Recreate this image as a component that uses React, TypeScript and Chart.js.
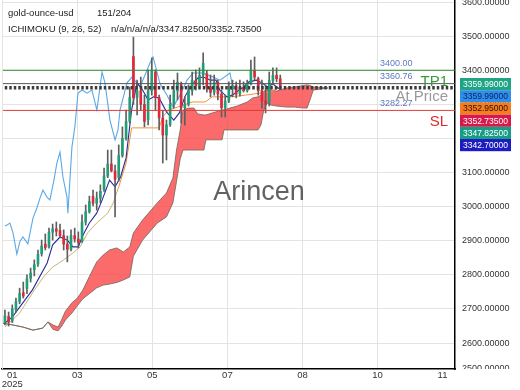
import React, { useEffect, useRef } from 'react';
import { Chart, registerables } from 'chart.js';

Chart.register(...registerables);

const FONT = "'Liberation Sans', Arial, Helvetica, sans-serif";

// ---- texts ----
const symbolName = 'gold-ounce-usd';
const barCounter = '151/204';
const indicatorName = 'ICHIMOKU (9, 26, 52)';
const indicatorValues = 'n/a/n/a/n/a/3347.82500/3352.73500';
const watermark = 'Arincen';

// ---- axes ----
const xTickValues = [4, 39.4, 80.3, 121.2, 162.1, 203, 238.4];
const xTickLabels: (string | string[])[] = [['01', '2025'], '03', '05', '07', '08', '10', '11'];
const yTickValues = [2600, 2700, 2800, 2900, 3000, 3100, 3200, 3300, 3400, 3500, 3600];
const clippedTick = 2500;

// ---- candles (bar index) ----
const candleX = [0,2,4,6,8,10,12,14,16,18,20,22,24,26,28,30,32,34,36,38,40,42,44,46,48,50,52,54,56,58,60,62,64,66,68,70,72,74,76,78,80,82,84,86,88,90,92,94,96,98,100,102,104,106,108,110,112,114,116,118,120,122,124,126,128,130,132,134,136,138,140,142,144,146,148,150];
const candleOpen = [2660,2678,2665,2698,2722,2748,2760,2790,2815,2832,2862,2890,2882,2925,2935,2930,2915,2890,2875,2915,2905,2900,2955,2985,3030,3010,3025,3050,3090,3125,3105,3085,3150,3200,3250,3440,3320,3340,3300,3255,3340,3395,3320,3260,3210,3240,3300,3340,3360,3290,3300,3340,3370,3355,3385,3390,3350,3335,3365,3330,3290,3310,3345,3355,3330,3350,3340,3360,3400,3375,3340,3310,3305,3370,3385,3375];
const candleHigh = [2697,2691,2712,2732,2761,2779,2800,2820,2844,2873,2902,2920,2937,2949,2955,2949,2932,2914,2932,2937,2926,2976,3005,3031,3049,3043,3064,3113,3166,3166,3122,3181,3234,3283,3351,3497,3371,3380,3327,3401,3436,3401,3327,3283,3254,3327,3371,3392,3365,3322,3357,3395,3401,3407,3451,3400,3386,3386,3371,3342,3327,3366,3371,3366,3371,3366,3371,3430,3439,3380,3371,3357,3395,3407,3407,3386];
const candleLow = [2653,2650,2660,2691,2715,2732,2745,2779,2797,2825,2855,2873,2878,2902,2914,2908,2873,2838,2870,2896,2879,2895,2946,2981,3002,2990,3011,3045,3085,3102,2970,3075,3145,3195,3245,3300,3269,3283,3234,3240,3327,3283,3225,3128,3137,3235,3289,3313,3245,3239,3295,3327,3342,3348,3357,3336,3322,3327,3313,3263,3263,3305,3322,3319,3324,3336,3336,3357,3371,3327,3289,3275,3295,3357,3366,3348];
const candleClose = [2680,2662,2700,2722,2745,2738,2788,2805,2830,2860,2885,2880,2925,2935,2928,2915,2890,2875,2915,2905,2895,2955,2985,3015,3010,3025,3045,3090,3125,3105,3080,3150,3200,3250,3320,3320,3340,3300,3250,3340,3400,3320,3260,3210,3240,3300,3340,3365,3290,3300,3340,3370,3355,3385,3420,3350,3335,3365,3330,3290,3310,3345,3355,3330,3350,3340,3360,3400,3380,3340,3310,3300,3370,3385,3375,3352.735];

// ---- ichimoku lines ----
const tenkanX = [0,4,15,23,26,30,34,37,40,42,46,50,53,57,60,63,66,69,72,75,78,81,84,88,92,95,98,101,105,108,112,115,117,121,124,126,130,133,137,140,143,146,150];
const tenkanY = [2659,2676,2756,2835,2888,2911,2902,2882,2882,2911,2952,2981,3020,3078,3058,3087,3143,3283,3363,3342,3313,3322,3319,3278,3254,3275,3322,3351,3377,3380,3371,3371,3342,3322,3327,3336,3351,3366,3371,3363,3351,3360,3343];

const kijunX = [0,8,15,21,26,32,37,41,45,50,56,59,62,66,68,69,84,86,89,94,102,109,113,123,131,139,144,150];
const kijunY = [2647,2688,2747,2794,2823,2844,2864,2882,2923,2952,2981,3011,3058,3128,3196,3231,3231,3263,3283,3292,3307,3307,3322,3322,3327,3333,3336,3350];

const chikouX = [0,1.1,2.7,4.4,6.5,8.2,9.8,12.5,15.3,17.4,19.1,20.7,22.9,24.5,26.7,28.3,30,31.6,33.8,34.3,36.5,38.1,39.8,42,44.7,47.4,50.1,52.9,54.5,57.2,60,61.6,62.7,66.5,69.2,73.6,79,80.7,84.5,88.3,91.6,95.4,99.2,102.5,107.9,113.4,117.2,122.6,124];
const chikouY = [2943,2946,2952,2923,2861,2899,2911,2891,2967,2996,3025,3049,3028,3020,3078,3128,3160,3087,3028,2981,3175,3234,3333,3342,3333,3342,3283,3395,3363,3254,3196,3225,3283,3363,3380,3351,3421,3439,3360,3327,3292,3327,3371,3392,3392,3380,3371,3392,3352.7];

const cloudX = [-2,4.4,9.8,15.3,20.7,23.4,26.2,29,31,33,36.5,39.5,42.5,46,50,53.5,57,61,64.5,68,70,75,83,88,91.5,93.5,95.5,97,100,103,105,108.4,109.5,113,117,118.3,119.3,122.5,126.5,132,135,137.9,139.5,141,142.8,145,148,153.5,158,161,164.6,166.2,168,176];
const spanA = [2659,2653,2647,2638,2644,2662,2653,2647,2670,2694,2718,2732,2756,2795,2838,2858,2873,2879,2867,2882,2923,2961,3011,3040,3084,3166,3225,3283,3289,3289,3272,3269,3269,3275,3281,3283,3284,3289,3295,3307,3319,3322,3327,3338,3342,3342,3339,3348,3351,3354,3357,3355,3351,3348];
const spanB = [2659,2653,2647,2638,2644,2662,2640,2636,2650,2668,2688,2710,2730,2745,2762,2770,2773,2778,2785,2794,2855,2902,2952,2970,3011,3075,3140,3166,3166,3166,3166,3166,3196,3196,3196,3196,3225,3225,3225,3225,3225,3225,3240,3283,3304,3298,3295,3292,3292,3290,3289,3313,3342,3348];

// ---- levels ----
const levelHigh = 3400;
const levelTP = 3360.76;
const levelAtPrice = 3349;
const levelSL = 3282.27;

// ---- right side price tags ----
const tagValues = [3359.99, 3359.99, 3352.95, 3352.735, 3347.825, 3342.7];
const tagColors = ['#1fa585', '#2f8fe6', '#f57d1f', '#d8184a', '#179c86', '#1c1cc0'];
const tagTextColors = ['#ffffff', '#0b1e6e', '#2a1000', '#ffffff', '#ffffff', '#ffffff'];

const UP = '#1f9e78';
const DOWN = '#e0283c';

const zip = (xs: number[], ys: number[]) => xs.map((x, i) => ({ x, y: ys[i] }));
const hline = (v: number) => [{ x: -5, y: v }, { x: 260, y: v }];

const overlayPlugin = {
  id: 'overlay',
  afterDraw(chart: any) {
    const { ctx, chartArea, scales } = chart;
    const ys = scales.y;
    ctx.save();
    // left edge line
    ctx.strokeStyle = '#e3e3e3';
    ctx.lineWidth = 1;
    ctx.beginPath();
    ctx.moveTo(chartArea.left + 0.5, chartArea.top);
    ctx.lineTo(chartArea.left + 0.5, chartArea.bottom);
    ctx.stroke();

    // header
    ctx.textBaseline = 'middle';
    ctx.textAlign = 'left';
    ctx.fillStyle = '#222';
    ctx.font = `9.5px ${FONT}`;
    ctx.fillText(symbolName, 8, 13);
    ctx.fillText(barCounter, 97, 13);
    ctx.fillText(indicatorName, 8, 29.5);
    ctx.fillText(indicatorValues, 111, 29.5);

    // watermark
    ctx.textAlign = 'center';
    ctx.font = `27px ${FONT}`;
    ctx.fillStyle = 'rgba(70,70,70,0.85)';
    ctx.fillText(watermark, 259, 193);

    // level value labels
    ctx.textAlign = 'left';
    ctx.font = `9px ${FONT}`;
    ctx.fillStyle = '#5b78c0';
    ctx.fillText(levelHigh.toFixed(2), 380, ys.getPixelForValue(levelHigh) - 6.5);
    ctx.fillText(levelTP.toFixed(2), 380, ys.getPixelForValue(levelTP) - 7);
    ctx.fillText(levelSL.toFixed(2), 380, ys.getPixelForValue(levelSL) - 7);

    // big labels
    ctx.textAlign = 'right';
    ctx.font = `15px ${FONT}`;
    ctx.fillStyle = '#3a9a3a';
    ctx.fillText('TP1', 448, ys.getPixelForValue(levelTP) - 2);
    ctx.fillStyle = '#9a9a9a';
    ctx.fillText('At Price', 448, ys.getPixelForValue(levelAtPrice) + 9);
    ctx.fillStyle = '#e0282e';
    ctx.fillText('SL', 448, ys.getPixelForValue(levelSL) + 11.5);

    // tags
    const tagTop = 78, tagH = 12.2, tagLeft = 460, tagW = 51;
    ctx.textAlign = 'left';
    ctx.font = `8.5px ${FONT}`;
    tagValues.forEach((v, k) => {
      const ty = tagTop + k * tagH;
      ctx.fillStyle = tagColors[k];
      ctx.fillRect(tagLeft, ty, tagW, tagH);
      ctx.fillStyle = tagTextColors[k];
      ctx.fillText(v.toFixed(5), 463, ty + tagH / 2 + 0.5);
    });

    // clipped bottom tick label
    ctx.beginPath();
    ctx.rect(chartArea.right + 1, chartArea.bottom - 14, 70, 14);
    ctx.clip();
    ctx.font = `9px ${FONT}`;
    ctx.fillStyle = '#333';
    ctx.fillText(clippedTick.toFixed(5), chartArea.right + 7, chartArea.bottom - 0.5);
    ctx.restore();
  },
};

export default function App() {
  const ref = useRef<HTMLCanvasElement | null>(null);
  useEffect(() => {
    if (!ref.current) return;
    const wickData = candleX.map((x, i) => ({ x, y: [candleLow[i], candleHigh[i]] }));
    const bodyData = candleX.map((x, i) => ({ x, y: [candleOpen[i], candleClose[i]] }));
    const bodyColors = candleX.map((_, i) => (candleClose[i] >= candleOpen[i] ? UP : DOWN));

    const lineBase = { type: 'line' as const, pointRadius: 0, tension: 0, fill: false };

    const chart = new Chart(ref.current, {
      type: 'line',
      data: {
        datasets: [
          {
            ...lineBase,
            data: zip(cloudX, spanA),
            borderColor: 'rgba(120,105,95,0.85)',
            borderWidth: 1,
            backgroundColor: 'rgba(250,70,70,0.8)',
            fill: '+1',
            order: 20,
          } as any,
          {
            ...lineBase,
            data: zip(cloudX, spanB),
            borderColor: 'rgba(120,105,95,0.85)',
            borderWidth: 1,
            order: 19,
          } as any,
          {
            ...lineBase,
            data: zip(chikouX, chikouY),
            borderColor: '#5aa9e6',
            borderWidth: 1.1,
            order: 18,
          } as any,
          {
            ...lineBase,
            data: zip(kijunX, kijunY),
            borderColor: '#e9a050',
            borderWidth: 1,
            segment: {
              borderColor: (c: any) => (c.p0.parsed.x < 62 ? '#c9b27a' : '#f39236'),
            },
            order: 17,
          } as any,
          {
            ...lineBase,
            data: zip(tenkanX, tenkanY),
            borderColor: '#2a2a9c',
            borderWidth: 1.1,
            order: 16,
          } as any,
          {
            type: 'bar',
            data: wickData,
            backgroundColor: '#5e5e5e',
            barThickness: 1,
            grouped: false,
            borderWidth: 0,
            order: 15,
          } as any,
          {
            type: 'bar',
            data: bodyData,
            backgroundColor: bodyColors,
            barThickness: 2,
            grouped: false,
            borderWidth: 0,
            order: 14,
          } as any,
          { ...lineBase, data: hline(levelHigh), borderColor: '#2e8b2e', borderWidth: 1, order: 5 } as any,
          { ...lineBase, data: hline(levelSL), borderColor: '#e53935', borderWidth: 1, order: 5 } as any,
          { ...lineBase, data: hline(levelTP), borderColor: '#555555', borderWidth: 1, order: 4 } as any,
          {
            ...lineBase,
            data: hline(levelAtPrice),
            borderColor: '#3a3a3a',
            borderWidth: 3.5,
            borderDash: [2.5, 2],
            order: 3,
          } as any,
        ],
      },
      options: {
        animation: false,
        responsive: false,
        devicePixelRatio: 1,
        layout: { padding: { left: 2, right: 0, top: 0, bottom: 0 } },
        plugins: { legend: { display: false }, tooltip: { enabled: false } },
        events: [],
        scales: {
          x: {
            type: 'linear',
            min: -1.6,
            max: 245.2,
            offset: false,
            position: 'bottom',
            grid: {
              offset: false,
              drawTicks: false,
              color: (c: any) =>
                c.index === 0 || c.index === xTickValues.length - 1 ? 'rgba(0,0,0,0)' : '#e3e3e3',
            },
            border: { color: '#000', width: 1.5 },
            afterBuildTicks: (s: any) => {
              s.ticks = xTickValues.map((v) => ({ value: v }));
            },
            afterFit: (s: any) => {
              s.height = 21;
              s.paddingLeft = 0;
              s.paddingRight = 0;
            },
            ticks: {
              autoSkip: false,
              maxRotation: 0,
              minRotation: 0,
              padding: 1.5,
              color: '#333',
              font: { family: FONT, size: 9.5, lineHeight: 0.95 },
              callback: (_v: any, i: number) => xTickLabels[i],
            },
          },
          y: {
            type: 'linear',
            position: 'right',
            min: 2524,
            max: 3606,
            grid: { drawTicks: false, color: '#e3e3e3' },
            border: { color: '#000', width: 1.5 },
            afterBuildTicks: (s: any) => {
              s.ticks = yTickValues.map((v) => ({ value: v }));
            },
            afterFit: (s: any) => {
              s.width = 65;
              s.paddingTop = 0;
              s.paddingBottom = 0;
            },
            ticks: {
              padding: 7,
              color: '#333',
              font: { family: FONT, size: 9 },
              callback: (v: any) => Number(v).toFixed(5),
            },
          },
        },
      } as any,
      plugins: [overlayPlugin],
    });
    return () => chart.destroy();
  }, []);

  return (
    <div style={{ position: 'fixed', left: 0, top: 0, width: 520, height: 390, background: '#fff' }}>
      <canvas ref={ref} width={520} height={390} style={{ display: 'block' }} />
    </div>
  );
}
